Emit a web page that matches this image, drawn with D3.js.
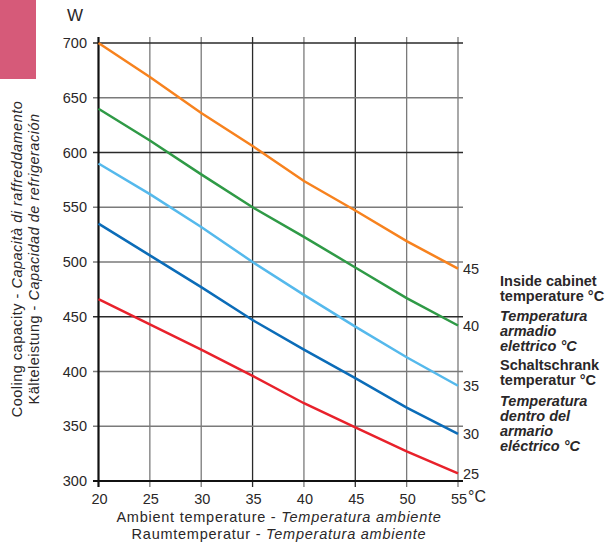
<!DOCTYPE html>
<html><head><meta charset="utf-8">
<script src="https://cdn.jsdelivr.net/npm/d3@7"></script>
<style>body{margin:0;background:#fff}svg{display:block;font-family:"Liberation Sans",Arial,sans-serif}</style>
</head><body><svg id="c" width="610" height="544"></svg>
<script>
const ambient = [20, 25, 30, 35, 40, 45, 50, 55];
const seriesNames = ["45", "40", "35", "30", "25"];
const seriesColors = ["#f7821e", "#2f9a46", "#55b9ec", "#0b6cb8", "#e8212b"];
const s45 = [700, 669, 636, 606, 574, 547, 519, 494];
const s40 = [640, 611, 580, 550, 523, 495, 467, 442];
const s35 = [590, 562, 532, 500, 470, 441, 413, 387];
const s30 = [535, 506, 477, 447, 420, 394, 367, 343];
const s25 = [466, 443, 420, 396, 371, 349, 327, 307];
const seriesValues = [s45, s40, s35, s30, s25];
const yTicks = [300, 350, 400, 450, 500, 550, 600, 650, 700];
const xTicks = [20, 25, 30, 35, 40, 45, 50, 55];
const legendLines = [
  ["Inside cabinet", "b"], ["temperature °C", "b"],
  ["Temperatura", "bi"], ["armadio", "bi"], ["elettrico °C", "bi"],
  ["Schaltschrank", "b"], ["temperatur °C", "b"],
  ["Temperatura", "bi"], ["dentro del", "bi"], ["armario", "bi"], ["eléctrico °C", "bi"]
];

const svg = d3.select("#c");
const x = d3.scaleLinear().domain([20, 55]).range([98.5, 458]);
const y = d3.scaleLinear().domain([300, 700]).range([481, 43]);
const txt = "#2a2728";

svg.append("rect").attr("x", 0).attr("y", 0).attr("width", 36).attr("height", 79).attr("fill", "#d65a79");

const darkV = new Set([35, 45]);
const darkH = new Set([600, 450, 700]);
svg.append("g").selectAll("line").data(xTicks.slice(1)).join("line")
  .attr("x1", d => x(d)).attr("x2", d => x(d)).attr("y1", 37).attr("y2", 487)
  .attr("stroke", d => darkV.has(d) ? "#2a2a2a" : "#7a7a7a").attr("stroke-width", 1.3);
svg.append("g").selectAll("line").data(yTicks.slice(1)).join("line")
  .attr("x1", 93).attr("x2", 463).attr("y1", d => y(d)).attr("y2", d => y(d))
  .attr("stroke", d => darkH.has(d) ? "#2a2a2a" : "#7a7a7a").attr("stroke-width", 1.3);
svg.append("line").attr("x1", 93).attr("x2", 463).attr("y1", y(300)).attr("y2", y(300)).attr("stroke", "#111").attr("stroke-width", 2.2);
svg.append("line").attr("x1", x(20)).attr("x2", x(20)).attr("y1", 37).attr("y2", 487).attr("stroke", "#111").attr("stroke-width", 2.2);

svg.append("g").selectAll("text").data(yTicks).join("text")
  .attr("x", 87).attr("y", d => y(d)).attr("dy", "0.36em").attr("text-anchor", "end")
  .attr("font-size", 14.5).attr("fill", txt).text(d => d);
svg.append("g").selectAll("text").data(xTicks).join("text")
  .attr("x", d => x(d) + 1).attr("y", 504).attr("text-anchor", "middle")
  .attr("font-size", 14.5).attr("fill", txt).text(d => d);
svg.append("text").attr("x", 468).attr("y", 502).attr("font-size", 16).attr("fill", txt).text("°C");
svg.append("text").attr("x", 67).attr("y", 21).attr("font-size", 17).attr("fill", txt).text("W");

const xt1 = svg.append("text").attr("x", 279).attr("y", 522).attr("text-anchor", "middle").attr("font-size", 14.5).attr("letter-spacing", 0.75).attr("fill", txt);
xt1.append("tspan").text("Ambient temperature - ");
xt1.append("tspan").attr("font-style", "italic").text("Temperatura ambiente");
const xt2 = svg.append("text").attr("x", 279).attr("y", 539).attr("text-anchor", "middle").attr("font-size", 14.5).attr("letter-spacing", 0.75).attr("fill", txt);
xt2.append("tspan").text("Raumtemperatur - ");
xt2.append("tspan").attr("font-style", "italic").text("Temperatura ambiente");

const yt1 = svg.append("text").attr("transform", "translate(22,259) rotate(-90)").attr("text-anchor", "middle").attr("font-size", 14.5).attr("letter-spacing", 0.5).attr("fill", txt);
yt1.append("tspan").text("Cooling capacity - ");
yt1.append("tspan").attr("font-style", "italic").text("Capacità di raffreddamento");
const yt2 = svg.append("text").attr("transform", "translate(39,259) rotate(-90)").attr("text-anchor", "middle").attr("font-size", 14.5).attr("letter-spacing", 0.5).attr("fill", txt);
yt2.append("tspan").text("Kälteleistung - ");
yt2.append("tspan").attr("font-style", "italic").text("Capacidad de refrigeración");

const line = d3.line().x((d, i) => x(ambient[i])).y(d => y(d));
svg.append("g").selectAll("path").data(seriesValues).join("path")
  .attr("d", d => line(d)).attr("fill", "none")
  .attr("stroke", (d, i) => seriesColors[i]).attr("stroke-width", 2.5);

svg.append("g").selectAll("text").data(seriesValues).join("text")
  .attr("x", 463).attr("y", d => y(d[d.length - 1])).attr("dy", "0.36em")
  .attr("font-size", 14.5).attr("fill", txt).text((d, i) => seriesNames[i]);

const lb = [286, 301, 321, 336, 351, 370, 385, 406, 421, 436, 451];
svg.append("g").selectAll("text").data(legendLines).join("text")
  .attr("x", 500).attr("y", (d, i) => lb[i])
  .attr("font-size", 14.5).attr("font-weight", "bold")
  .attr("font-style", d => d[1] === "bi" ? "italic" : "normal")
  .attr("fill", txt).text(d => d[0]);
</script></body></html>
